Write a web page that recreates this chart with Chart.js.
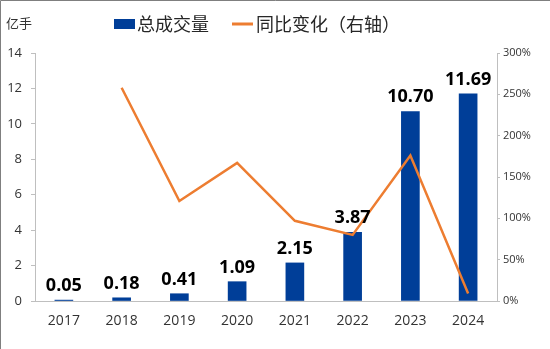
<!DOCTYPE html>
<html>
<head>
<meta charset="utf-8">
<script src="https://cdn.jsdelivr.net/npm/chart.js@4/dist/chart.umd.min.js"></script>
<style>
  html, body { margin: 0; padding: 0; background: #fff; }
  #wrap { width: 550px; height: 349px; position: relative; }
</style>
</head>
<body>
<div id="wrap"><canvas id="chart" width="550" height="349"></canvas></div>
<script>
// data
const years = ['2017', '2018', '2019', '2020', '2021', '2022', '2023', '2024'];
const volume = [0.05, 0.18, 0.41, 1.09, 2.15, 3.87, 10.70, 11.69];      // 亿手
const yoyChange = [null, 258, 121, 167, 97, 80, 176, 9];               // %
const leftTicks = { min: 0, max: 14, step: 2 };
const rightTicks = { min: 0, max: 300, step: 50 };

const BLUE = '#003e98';
const ORANGE = '#ed7d31';
const FONT = "'Open Sans', 'Noto Sans', 'Noto Sans CJK SC', sans-serif";
const CJK = "'Noto Sans CJK SC', 'Noto Sans', sans-serif";

// value labels above the bars
const barLabels = {
    id: 'barLabels',
    afterDatasetsDraw(chart) {
        const ctx = chart.ctx;
        const meta = chart.getDatasetMeta(0);
        ctx.save();
        ctx.font = 'bold 18px ' + FONT;
        ctx.fillStyle = '#000';
        ctx.textAlign = 'center';
        ctx.textBaseline = 'alphabetic';
        meta.data.forEach((bar, i) => {
            ctx.fillText(volume[i].toFixed(2), bar.x, bar.y - 9);
        });
        ctx.restore();
    }
};

// legend, unit label and frame
const extras = {
    id: 'extras',
    afterDraw(chart) {
        const ctx = chart.ctx;
        ctx.save();
        // frame (left + top)
        ctx.strokeStyle = '#7f7f7f';
        ctx.lineWidth = 1;
        ctx.beginPath();
        ctx.moveTo(0.5, 349);
        ctx.lineTo(0.5, 0.5);
        ctx.lineTo(550, 0.5);
        ctx.stroke();

        // unit
        ctx.font = '13px ' + CJK;
        ctx.fillStyle = '#333';
        ctx.textBaseline = 'middle';
        ctx.textAlign = 'left';
        ctx.fillText('亿手', 6, 23);

        // legend
        ctx.fillStyle = BLUE;
        ctx.fillRect(114, 19, 21, 10);
        ctx.font = '18px ' + CJK;
        ctx.fillStyle = '#262626';
        ctx.fillText('总成交量', 137, 24);
        ctx.strokeStyle = ORANGE;
        ctx.lineWidth = 3;
        ctx.beginPath();
        ctx.moveTo(232, 24);
        ctx.lineTo(253, 24);
        ctx.stroke();
        ctx.fillText('同比变化（右轴）', 256, 24);
        ctx.restore();
    }
};

new Chart(document.getElementById('chart'), {
    type: 'bar',
    data: {
        labels: years,
        datasets: [
            {
                label: '总成交量',
                data: volume,
                backgroundColor: BLUE,
                barThickness: 18,
                yAxisID: 'y',
                order: 1
            },
            {
                type: 'line',
                label: '同比变化（右轴）',
                data: yoyChange,
                borderColor: ORANGE,
                borderWidth: 2.5,
                pointRadius: 0,
                tension: 0,
                yAxisID: 'y1',
                order: 0
            }
        ]
    },
    options: {
        responsive: false,
        animation: false,
        layout: { padding: { top: 53, left: 0, right: 0, bottom: 0 } },
        plugins: {
            legend: { display: false },
            tooltip: { enabled: false }
        },
        scales: {
            x: {
                grid: { display: false, drawTicks: false },
                border: { display: true, color: '#bfbfbf' },
                ticks: { color: '#333', font: { family: FONT, size: 14 }, padding: 12 },
                afterFit(scale) { scale.height = 48; }
            },
            y: {
                position: 'left',
                min: leftTicks.min,
                max: leftTicks.max,
                ticks: { stepSize: leftTicks.step, color: '#333', font: { family: FONT, size: 13 }, padding: 9 },
                grid: { drawOnChartArea: false, tickLength: 4, color: '#bfbfbf' },
                border: { color: '#bfbfbf' },
                afterFit(scale) { scale.width = 35; }
            },
            y1: {
                position: 'right',
                min: rightTicks.min,
                max: rightTicks.max,
                ticks: {
                    stepSize: rightTicks.step,
                    color: '#333',
                    font: { family: FONT, size: 11 },
                    padding: 3,
                    callback: v => v + '%'
                },
                grid: { drawOnChartArea: false, tickLength: 3, color: '#bfbfbf' },
                border: { color: '#bfbfbf' },
                afterFit(scale) { scale.width = 53; }
            }
        }
    },
    plugins: [barLabels, extras]
});
</script>
</body>
</html>
